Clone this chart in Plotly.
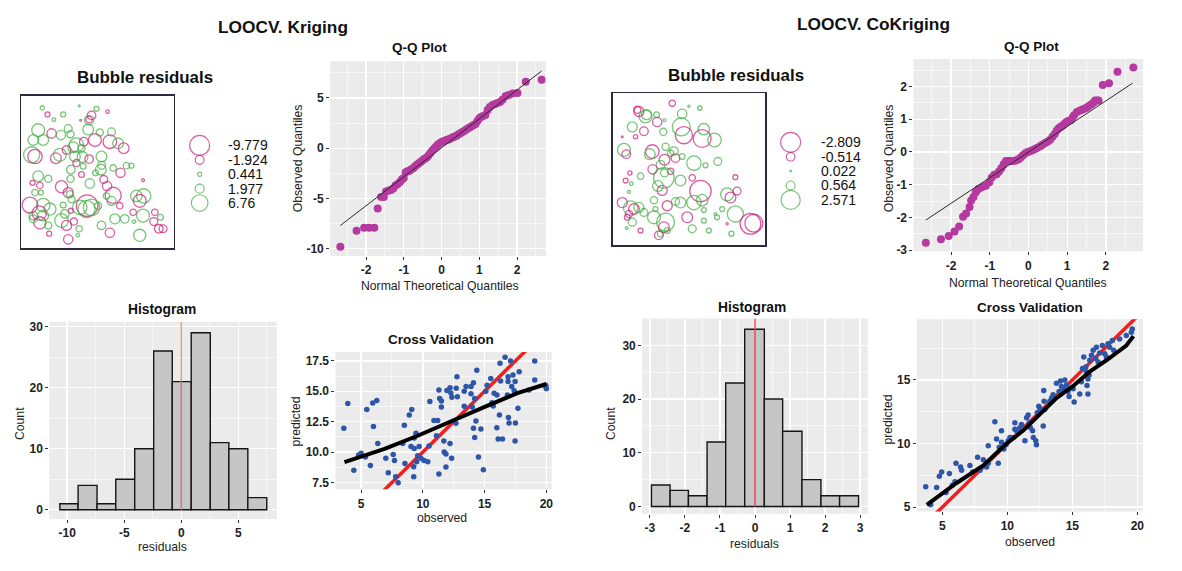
import numpy as np
import plotly.graph_objects as go

W, H = 1182, 571
FONT = "Liberation Sans, Arial, sans-serif"

# ======================= DATA =======================
# --- Kriging: bubble map (map window coords 0-100) and residuals
bubL_x = [13.8,17.2,21.4,27.5,38.0,46.1,49.3,56.6,38.9,44.5, 11.1,7.9,14.4,19.9,26.0,30.8,32.3,43.9,36.2,41.0,
          48.3,58.1,63.5,67.2,59.2,6.8,9.0,22.7,25.3,29.7, 35.2,39.5,44.5,52.6,36.2,40.6,32.5,39.5,48.7,52.2,
          60.3,65.1,69.0,72.3,11.1,17.7,7.4,12.2,32.3,45.0, 54.1,56.3,79.9,9.0,12.9,26.4,30.8,31.9,33.0,60.3,
          59.2,55.9,75.5,80.3,77.7,5.7,14.4,18.8,27.5,38.4, 43.2,46.1,50.4,42.8,11.8,14.4,7.9,32.5,28.6,64.6,
          73.4,79.9,87.6,91.3,67.9,74.0,12.2,7.9,17.7,26.4, 29.7,34.5,38.0,52.6,61.4,86.9,90.2,93.0,18.3,30.8,
          37.1,58.1,77.7,51.5,44.5,34.1,40.2,52.7]
bubL_y = [92.0,87.7,84.3,87.7,93.3,87.1,91.4,89.5,83.9,84.3, 77.4,71.0,71.0,75.3,74.2,78.5,74.8,77.8,67.7,69.9,
          71.0,69.9,68.8,65.6,76.3,61.3,60.2,59.1,61.3,64.5, 60.2,65.6,58.5,60.2,55.9,53.8,51.6,48.4,49.5,51.6,
          52.7,49.5,54.2,54.2,47.3,45.6,43.0,41.3,45.6,42.6, 45.2,40.9,44.7,36.6,36.6,40.4,36.6,35.5,32.3,34.8,
          31.2,34.4,34.4,34.4,31.2,28.4,28.4,25.8,28.4,26.9, 28.0,26.9,28.0,25.8,23.2,21.5,21.5,24.7,22.6,28.0,
          23.7,21.5,23.7,20.4,19.4,17.6,16.8,19.4,15.1,18.3, 15.1,17.6,12.9,15.1,19.4,17.6,12.9,12.9,9.7,6.0,
          8.6,10.3,8.6,75.9,84.0,66.3,59.8,54.4]
bubL_res = [0.39,-0.53,0.27,0.53,0.07,-1.56,0.53,-0.27,-0.07,-0.88, 3.52,2.44,2.44,-1.84,1.84,1.31,1.09,2.44,4.35,-1.56,
            -3.52,-3.92,2.44,-2.44,1.31,5.50,-4.35,-2.44,3.52,-1.56, 2.44,1.09,-1.56,2.44,-1.09,0.70,1.56,-0.70,0.70,2.44,
            0.88,-1.84,0.88,0.53,2.44,1.09,-0.53,-0.88,1.09,1.84, -1.31,-1.84,-0.17,0.88,0.53,-3.14,-2.13,1.09,1.09,-5.50,
            1.70,0.88,2.78,4.35,-3.52,-5.26,3.92,3.14,0.70,4.35, -9.78,5.75,1.09,6.26,-4.35,2.44,1.56,-0.53,1.56,-0.88,
            -0.88,3.52,-0.88,0.70,1.56,0.27,-3.14,1.31,1.09,3.92, -2.13,-1.09,0.88,1.56,2.13,-1.31,-1.56,-1.31,-0.53,-1.84,
            0.27,-1.84,3.14,1.09,1.84,2.44,2.44,1.31]
bubL_legend = [-9.779, -1.924, 0.441, 1.977, 6.76]

# --- Kriging: Q-Q
qqL_theo = [-2.68,-2.25,-2.05,-1.92,-1.78,-1.69,-1.60,-1.53,-1.47,-1.40,-1.34,-1.28,-1.22,-1.16,-1.10,-1.05,-1.00,
            -0.95,-0.90,-0.85,-0.80,-0.75,-0.70,-0.65,-0.60,-0.55,-0.50,-0.45,-0.40,-0.35,-0.30,-0.25,-0.20,-0.15,-0.10,-0.05,
            0.00,0.05,0.10,0.15,0.20,0.25,0.30,0.35,0.40,0.45,0.50,0.55,0.60,0.65,0.70,0.75,0.80,0.85,0.90,0.95,1.00,1.05,1.10,
            1.16,1.22,1.28,1.35,1.42,1.48,1.55,1.62,1.70,1.78,1.88,2.01,2.23,2.65]
qqL_obs = [-9.8,-8.2,-7.9,-7.9,-7.9,-6.0,-4.85,-4.85,-4.3,-4.2,-4.15,-4.0,-3.7,-3.55,-3.35,-3.1,-2.95,
           -2.4,-2.3,-2.25,-2.1,-2.0,-1.8,-1.65,-1.5,-1.35,-1.2,-1.05,-0.95,-0.75,-0.5,-0.25,-0.05,0.15,0.35,0.5,
           0.62,0.7,0.78,0.85,0.9,1.0,1.08,1.17,1.25,1.38,1.5,1.62,1.72,1.85,1.95,2.08,2.18,2.3,2.42,2.7,2.98,3.1,3.2,
           3.3,3.8,4.1,4.3,4.4,4.5,4.6,4.85,5.2,5.3,5.45,5.5,6.6,6.8]
qqL_line_x = [-2.68, 2.65]
qqL_line_y = [-7.69, 7.68]

# --- Kriging: histogram of residuals
histL_edges = [-10.64,-9.04,-7.38,-5.74,-4.08,-2.42,-0.79,0.87,2.54,4.17,5.83,7.49]
histL_counts = [1,4,1,5,10,26,21,29,11,10,2]

# --- Kriging: cross validation
cvL_obs = [3.6,3.92,4.41,4.8,5.0,5.35,5.46,5.75,5.94,6.0, 6.27,6.35,7.0,7.2,7.6,7.7,7.8,8.0,8.37,8.5,
           8.55,8.9,9.04,9.1,9.26,9.26,9.3,9.3,9.44,9.5, 9.58,9.7,9.85,10.1,10.4,10.5,10.57,10.9,11.1,11.2,
           11.3,11.3,11.36,11.5,11.5,11.7,11.73,11.87,11.87,11.95, 12.2,12.2,12.27,12.33,12.35,12.68,12.7,12.76,12.8,13.35,
           13.35,13.5,13.9,13.9,14.0,14.1,14.1,14.2,14.2,14.3, 14.37,14.5,14.7,14.9,15.1,15.2,15.5,15.6,15.7,15.77,
           15.99,16.0,16.1,16.2,16.25,16.3,16.45,16.66,16.85,16.9, 16.9,16.93,16.98,17.1,17.2,17.3,17.4,17.47,17.47,17.5,
           17.7,17.8,18.6,19.06,19.06,19.95,20.0,19.95]
cvL_pred = [11.96,13.99,8.5,9.75,9.9,9.6,13.5,8.9,14.04,12.1, 14.25,10.7,9.5,8.3,9.8,9.3,7.96,7.47,10.7,12.2,
            9.05,13.04,10.45,13.5,8.8,7.96,11.15,10.3,11.55,9.2, 9.7,10.45,9.5,9.3,9.2,10.5,14.17,12.6,11.34,12.6,
            15.1,8.2,14.4,13.7,14.2,10.9,10.0,9.85,8.77,15.07, 10.7,15.3,14.85,9.5,14.5,12.37,15.26,16.2,14.55,13.77,
            15.0,15.4,15.4,14.8,13.7,15.7,11.96,11.2,14.4,12.55, 16.74,9.6,11.9,8.55,15.0,15.5,16.06,14.05,13.8,14.84,
            12.0,14.7,11.07,13.05,17.3,15.85,11.07,17.8,14.7,15.8, 16.2,12.84,12.4,17.5,15.4,16.34,15.05,15.8,10.9,12.4,
            13.6,16.6,15.1,17.5,15.93,15.5,15.2,15.4]
cvL_fit_x = [3.65, 6.9, 9.58, 12.27, 14.96, 17.66, 20.0]
cvL_fit_y = [9.18, 10.26, 11.34, 12.55, 13.69, 14.85, 15.6]

# --- CoKriging: bubble map
bubR_x = [38.9,15.9,21.4,17.0,28.6,29.0,33.8,45.4,49.8,57.0, 44.8,46.5,59.6,58.5,66.6,12.7,20.3,14.8,33.0,6.1,
          7.2,8.7,25.8,24.2,34.5,37.8,33.8,31.2,41.0,45.4, 37.8,33.8,53.1,60.7,68.8,11.1,8.3,18.1,12.0,33.4,
          44.3,52.0,80.3,10.5,32.3,57.4,58.5,26.9,6.1,11.6, 13.8,17.0,20.3,10.5,27.9,35.6,44.3,53.1,41.0,59.6,
          74.9,77.1,81.4,71.6,68.3,12.7,9.4,26.9,34.5,33.4, 35.6,48.7,59.6,80.3,90.2,92.4,9.0,18.1,30.1,31.2,
          52.0,62.9,77.7,67.2,74.9,22.0,40.0,26.0,29.5]
bubR_y = [93.5,89.2,84.8,88.1,85.9,81.2,82.3,86.6,91.6,90.3, 77.9,72.5,76.4,70.3,69.3,77.9,75.1,71.4,74.7,71.4,
          62.8,60.0,61.7,60.0,64.9,60.6,56.3,53.0,57.4,58.4, 48.7,47.6,54.1,52.6,55.2,47.6,42.6,45.5,40.5,44.4,
          42.6,44.4,44.8,35.1,36.1,35.7,29.7,29.7,28.1,24.5, 23.8,24.9,21.6,20.6,23.8,26.0,28.1,28.1,28.8,23.2,
          33.5,31.4,35.7,23.8,18.4,15.2,18.4,18.4,15.2,11.9, 9.7,18.4,16.2,20.6,14.1,14.5,11.3,9.7,6.5,7.6,
          10.8,9.7,7.6,20.6,14.1,86.0,62.0,50.0,39.0]
bubR_res = [-0.25,-0.31,1.01,-0.61,0.20,-0.53,0.05,0.53,0.03,0.11, 1.95,-1.80,0.80,-1.95,1.13,0.61,-0.45,-0.11,0.31,-0.02,
            1.01,-0.45,-1.13,0.70,0.31,0.25,-0.70,0.45,-0.45,0.20, -0.25,0.38,1.25,0.15,0.38,-0.11,-0.15,0.25,0.08,2.571,
            0.70,-0.25,-0.15,0.05,-0.61,-2.809,0.80,0.31,-0.61,1.25, -0.70,0.61,0.38,-0.31,0.15,-0.61,0.70,1.25,0.38,0.15,
            1.01,-0.70,-0.38,0.15,0.15,0.38,-0.20,1.01,1.95,-0.70, 0.20,-0.70,0.15,1.58,-2.62,-1.95,0.05,-0.15,-0.45,0.25,
            0.38,0.15,0.15,0.05,-0.03,0.61,0.45,-0.53,0.70]
bubR_legend = [-2.809, -0.514, 0.022, 0.564, 2.571]

# --- CoKriging: Q-Q
qqR_theo = [-2.65,-2.26,-2.06,-1.91,-1.79,-1.69,-1.61,-1.52,-1.48,-1.42,-1.36,-1.29,-1.20,-1.10,-1.01,
            -0.95,-0.88,-0.82,-0.76,-0.70,-0.64,-0.58,-0.52,-0.46,-0.39,-0.33,-0.26,-0.20,-0.14,-0.08,-0.02,
            0.04,0.10,0.17,0.23,0.30,0.36,0.43,0.50,0.56,0.62,0.68,0.73,0.78,0.82,0.86,0.90,0.95,0.99,
            1.04,1.09,1.14,1.18,1.25,1.32,1.38,1.44,1.50,1.56,1.62,1.68,1.72,1.77,1.81,1.92,2.08,2.30,2.71]
qqR_obs = [-2.77,-2.67,-2.57,-2.43,-2.28,-1.98,-1.88,-1.68,-1.48,-1.38,-1.23,-1.13,-1.08,-1.03,-0.93,
           -0.78,-0.70,-0.68,-0.60,-0.50,-0.38,-0.28,-0.28,-0.28,-0.28,-0.26,-0.23,-0.17,-0.10,-0.04,0.0,
           0.02,0.05,0.09,0.13,0.17,0.22,0.27,0.32,0.37,0.46,0.55,0.65,0.72,0.75,0.78,0.82,0.88,0.92,
           0.95,0.97,1.05,1.12,1.22,1.26,1.29,1.32,1.35,1.40,1.45,1.50,1.57,1.57,1.57,2.04,2.10,2.45,2.58]
qqR_line_x = [-2.65, 2.69]
qqR_line_y = [-2.08, 2.10]

# --- CoKriging: histogram
histR_edges = [-2.956,-2.424,-1.901,-1.369,-0.837,-0.295,0.266,0.789,1.34,1.882,2.414,2.956]
histR_counts = [4,3,2,12,23,33,20,14,5,2,2]

# --- CoKriging: cross validation
cvR_obs = [3.72,4.1,4.56,4.77,4.95,5.28,5.54,5.77,5.97,6.05, 6.4,6.48,7.12,7.33,7.71,7.9,8.15,8.4,8.53,8.53,
           9.04,9.3,9.17,9.38,9.55,9.55,9.73,9.9,10.07,10.2, 10.45,10.58,10.58,10.7,10.96,11.09,11.35,11.48,11.6,11.68,
           11.78,11.94,12.0,12.19,12.24,12.3,12.42,12.5,12.76,12.83, 12.88,13.27,13.4,12.8,13.52,13.78,13.98,14.09,14.16,14.29,
           14.42,14.55,14.67,14.75,15.06,15.14,15.57,15.7,15.78,15.88, 16.03,16.08,16.13,16.2,16.2,16.29,16.34,16.47,16.6,16.8,
           16.85,16.98,17.1,17.31,17.49,17.62,17.75,17.87,18.08,18.18, 18.64,19.15,19.54,19.61]
cvR_pred = [6.6,5.18,6.55,7.43,7.76,6.16,7.64,6.73,6.99,8.46, 8.15,7.9,8.28,7.76,8.93,7.9,8.72,8.15,8.46,9.83,
            11.72,8.46,10.35,9.7,10.1,11.0,9.57,9.9,10.22,10.48, 10.48,11.64,11.12,11.0,11.25,11.5,10.22,12.03,12.24,11.64,
            11.25,11.0,10.48,10.22,9.9,12.42,12.93,12.75,11.38,13.32, 12.67,13.32,13.58,14.17,13.84,14.74,14.1,14.92,14.48,14.35,
            15.0,14.6,14.1,13.7,14.3,13.27,13.9,14.87,15.9,16.8, 16.03,15.64,14.56,15.08,13.9,15.39,16.55,16.94,17.33,16.68,
            17.58,16.42,17.12,17.71,17.07,16.81,17.84,17.58,18.1,17.33, 18.23,18.49,18.75,19.0]
cvR_fit_x = [3.8, 6.1, 8.15, 9.94, 11.2, 12.5, 13.78, 15.06, 16.34, 17.62, 19.15, 19.7]
cvR_fit_y = [5.18, 6.9, 8.28, 10.0, 11.0, 12.29, 13.58, 14.53, 15.65, 16.55, 17.71, 18.45]

ref_slope, ref_intercept = 1.0, 0.0   # 1:1 line in the cross-validation plots

# tick values
qqL_xticks = [-2, -1, 0, 1, 2];  qqL_yticks = [-10, -5, 0, 5]
histL_xticks = [-10, -5, 0, 5];  histL_yticks = [0, 10, 20, 30]
cvL_xticks = [5, 10, 15, 20];    cvL_yticks = [7.5, 10.0, 12.5, 15.0, 17.5]
qqR_xticks = [-2, -1, 0, 1, 2];  qqR_yticks = [-3, -2, -1, 0, 1, 2]
histR_xticks = [-3, -2, -1, 0, 1, 2, 3]; histR_yticks = [0, 10, 20, 30]
cvR_xticks = [5, 10, 15, 20];    cvR_yticks = [5, 10, 15]

# ======================= LAYOUT HELPERS =======================
MAG = "#CC1A7A"
GRN = "#3FAE3F"
QQCOL = "#B5399E"
CVCOL = "#2E56A8"
PANEL = "#EBEBEB"
BUBBLE_MAX_PX = 21.5

def xd(a, b):
    return [a / W, b / W]

def yd(top, bot):
    return [1 - bot / H, 1 - top / H]

def lab(v, fmt=None):
    s = (fmt.format(v) if fmt else ("%g" % v))
    return s.replace("\u2212", "-")

def gg_axis(dom, rng, ticks, minor_tick0, minor_dtick, anchor, fmt=None):
    return dict(domain=dom, range=rng, anchor=anchor, tickmode="array", tickvals=ticks,
                ticktext=[lab(t, fmt) for t in ticks],
                showgrid=True, gridcolor="white", gridwidth=1.3,
                minor=dict(tickmode="linear", tick0=minor_tick0, dtick=minor_dtick, showgrid=True,
                           gridcolor="white", gridwidth=0.6, ticks=""),
                zeroline=False, showline=False, ticks="outside", ticklen=3, tickwidth=1,
                tickcolor="#333333",
                tickfont=dict(family=FONT, size=12, color="#222222", weight="bold"),
                fixedrange=True)

def box_axis(dom, anchor):
    return dict(domain=dom, range=[0, 100], anchor=anchor, showgrid=False, zeroline=False,
                showticklabels=False, ticks="", showline=True, mirror=True,
                linecolor="#2B2B3F", linewidth=1.5, fixedrange=True)

def hidden_axis(dom, rng, anchor):
    return dict(domain=dom, range=rng, anchor=anchor, visible=False, fixedrange=True)

# panel pixel boxes: (left, right, top, bottom)
P = {
    1: (21.3, 174.0, 95.0, 250.0),
    2: (185.0, 265.0, 95.0, 250.0),
    3: (330.7, 546.7, 60.0, 257.7),
    4: (49.3, 277.3, 324.3, 524.3),
    5: (336.0, 552.7, 355.0, 494.3),
    6: (614.0, 766.7, 92.7, 246.7),
    7: (776.0, 860.0, 92.7, 246.7),
    8: (915.0, 1145.0, 57.7, 252.7),
    9: (643.3, 869.3, 321.0, 519.0),
    10: (918.3, 1145.0, 321.7, 516.7),
}

def dx(n):
    return xd(P[n][0], P[n][1])

def dy(n):
    return yd(P[n][2], P[n][3])

lay = {}
def put(n, xa, ya):
    lay["xaxis" if n == 1 else f"xaxis{n}"] = xa
    lay["yaxis" if n == 1 else f"yaxis{n}"] = ya

def ref(n):
    return ("x" if n == 1 else f"x{n}"), ("y" if n == 1 else f"y{n}")

put(1, box_axis(dx(1), "y"), box_axis(dy(1), "x"))
put(2, hidden_axis(dx(2), [P[2][0], P[2][1]], "y2"), hidden_axis(dy(2), [P[2][3], P[2][2]], "x2"))
put(3, gg_axis(dx(3), [-2.95, 2.76], qqL_xticks, -2.5, 1, "y3"),
       gg_axis(dy(3), [-10.73, 8.66], qqL_yticks, -7.5, 5, "x3"))
put(4, gg_axis(dx(4), [-11.57, 8.37], histL_xticks, -7.5, 5, "y4"),
       gg_axis(dy(4), [-1.5, 30.8], histL_yticks, 5, 10, "x4"))
put(5, gg_axis(dx(5), [2.92, 20.44], cvL_xticks, 7.5, 5, "y5"),
       gg_axis(dy(5), [6.93, 18.23], cvL_yticks, 8.75, 2.5, "x5", fmt="{:.1f}"))
put(6, box_axis(dx(6), "y6"), box_axis(dy(6), "x6"))
put(7, hidden_axis(dx(7), [P[7][0], P[7][1]], "y7"), hidden_axis(dy(7), [P[7][3], P[7][2]], "x7"))
put(8, gg_axis(dx(8), [-2.97, 2.96], qqR_xticks, -2.5, 1, "y8"),
       gg_axis(dy(8), [-3.03, 2.84], qqR_yticks, -2.5, 1, "x8"))
put(9, gg_axis(dx(9), [-3.22, 3.22], histR_xticks, -2.5, 1, "y9"),
       gg_axis(dy(9), [-1.35, 35.0], histR_yticks, 5, 10, "x9"))
put(10, gg_axis(dx(10), [3.03, 20.44], cvR_xticks, 7.5, 5, "y10"),
        gg_axis(dy(10), [4.66, 19.78], cvR_yticks, 7.5, 5, "x10"))

fig = go.Figure()

# ---------------- bubble maps ----------------
def bubble(n, xs, ys, res, legend_vals, legend_n, leg_cx, leg_y0, leg_step, label_x):
    res = np.asarray(res, dtype=float)
    zmax = np.max(np.abs(legend_vals))
    sizes = BUBBLE_MAX_PX * np.sqrt(np.abs(res) / zmax)
    cols = [MAG if r < 0 else GRN for r in res]
    xr, yr = ref(n)
    fig.add_trace(go.Scatter(x=xs, y=ys, mode="markers", xaxis=xr, yaxis=yr,
                             marker=dict(symbol="circle-open", size=sizes, color=cols,
                                         line=dict(width=1.3)),
                             hoverinfo="skip", showlegend=False))
    lv = np.asarray(legend_vals, dtype=float)
    lsz = 20 * np.sqrt(np.abs(lv) / zmax)
    lys = [leg_y0 + i * leg_step for i in range(len(lv))]
    lxr, lyr = ref(legend_n)
    fig.add_trace(go.Scatter(x=[leg_cx] * len(lv), y=lys, mode="markers", xaxis=lxr, yaxis=lyr,
                             marker=dict(symbol="circle-open", size=lsz,
                                         color=[MAG if v < 0 else GRN for v in lv], line=dict(width=1.2)),
                             hoverinfo="skip", showlegend=False, cliponaxis=False))
    for v, yy in zip(lv, lys):
        fig.add_annotation(x=label_x / W, y=1 - yy / H, xref="paper", yref="paper",
                           text=lab(v), showarrow=False, xanchor="left", yanchor="middle",
                           font=dict(family=FONT, size=14, color="#111111"))

bubble(1, bubL_x, bubL_y, bubL_res, bubL_legend, 2, 200.0, 145.5, 14.6, 226.0)
bubble(6, bubR_x, bubR_y, bubR_res, bubR_legend, 7, 792.0, 142.3, 14.6, 820.0)

# ---------------- Q-Q plots ----------------
def qq(n, tx, ob, lx, ly):
    xr, yr = ref(n)
    fig.add_trace(go.Scatter(x=tx, y=ob, mode="markers", xaxis=xr, yaxis=yr,
                             marker=dict(size=8, color=QQCOL), hoverinfo="skip", showlegend=False))
    fig.add_trace(go.Scatter(x=lx, y=ly, mode="lines", xaxis=xr, yaxis=yr,
                             line=dict(color="#2A2A2A", width=1), hoverinfo="skip", showlegend=False))

qq(3, qqL_theo, qqL_obs, qqL_line_x, qqL_line_y)
qq(8, qqR_theo, qqR_obs, qqR_line_x, qqR_line_y)

# ---------------- histograms ----------------
def hist(n, edges, counts, vline_segments):
    e = np.asarray(edges, dtype=float)
    centers = (e[:-1] + e[1:]) / 2
    widths = np.diff(e)
    xr, yr = ref(n)
    fig.add_trace(go.Bar(x=centers, y=counts, width=widths, xaxis=xr, yaxis=yr,
                         marker=dict(color="#C6C6C6", line=dict(color="#151515", width=1.4)),
                         hoverinfo="skip", showlegend=False))
    for (y0, y1, col) in vline_segments:
        fig.add_trace(go.Scatter(x=[0, 0], y=[y0, y1], mode="lines", xaxis=xr, yaxis=yr,
                                 line=dict(color=col, width=1.4), hoverinfo="skip", showlegend=False))

zero_bin_L = histL_counts[int(np.searchsorted(histL_edges, 0.0)) - 1]
hist(4, histL_edges, histL_counts, [(0, zero_bin_L, "#D8707A"), (zero_bin_L, 30.8, "#E3A272")])
hist(9, histR_edges, histR_counts, [(0, 35.0, "#EE3B5C")])

# ---------------- cross validation ----------------
def cv(n, ob, pr, fx, fy, xrange_):
    xr, yr = ref(n)
    rx = np.array(xrange_)
    fig.add_trace(go.Scatter(x=rx, y=ref_intercept + ref_slope * rx, mode="lines", xaxis=xr, yaxis=yr,
                             line=dict(color="#F21D1D", width=3.5), hoverinfo="skip", showlegend=False))
    fig.add_trace(go.Scatter(x=ob, y=pr, mode="markers", xaxis=xr, yaxis=yr,
                             marker=dict(size=5.5, color=CVCOL), hoverinfo="skip", showlegend=False))
    fig.add_trace(go.Scatter(x=fx, y=fy, mode="lines", xaxis=xr, yaxis=yr,
                             line=dict(color="#000000", width=4), hoverinfo="skip", showlegend=False))

cv(5, cvL_obs, cvL_pred, cvL_fit_x, cvL_fit_y, [2.92, 20.44])
cv(10, cvR_obs, cvR_pred, cvR_fit_x, cvR_fit_y, [3.03, 20.44])

# ---------------- grey panel backgrounds ----------------
shapes = []
for n in (3, 4, 5, 8, 9, 10):
    xr, yr = ref(n)
    shapes.append(dict(type="rect", xref=f"{xr} domain", yref=f"{yr} domain", x0=0, x1=1, y0=0, y1=1,
                       fillcolor=PANEL, line=dict(width=0), layer="below"))

# ---------------- text ----------------
def txt(s, x, y, size, bold=False, angle=0, color="#111111"):
    fig.add_annotation(x=x / W, y=1 - y / H, xref="paper", yref="paper", text=s, showarrow=False,
                       xanchor="center", yanchor="middle", textangle=angle,
                       font=dict(family=FONT, size=size, color=color, weight="bold" if bold else "normal"))

txt("LOOCV. Kriging", 283, 25, 17.3, True)
txt("LOOCV. CoKriging", 875, 22, 17.3, True)
txt("Bubble residuals", 145, 77, 16.9, True)
txt("Bubble residuals", 737, 75, 16.9, True)
txt("Q-Q Plot", 420, 46, 13.5, True)
txt("Q-Q Plot", 1033, 45, 13.5, True)
txt("Histogram", 162, 312, 13.8, True)
txt("Histogram", 753, 310, 13.8, True)
txt("Cross Validation", 442, 342, 13.5, True)
txt("Cross Validation", 1032, 310, 13.5, True)

AX = "#222222"
AXS = 12.2
txt("Normal Theoretical Quantiles", 441, 288, AXS, color=AX)
txt("Observed Quantiles", 298, 158, AXS, angle=-90, color=AX)
txt("residuals", 163, 553, AXS, color=AX)
txt("Count", 20, 427, AXS, angle=-90, color=AX)
txt("observed", 443, 523, AXS, color=AX)
txt("predicted", 297, 425, AXS, angle=-90, color=AX)
txt("Normal Theoretical Quantiles", 1030, 285, AXS, color=AX)
txt("Observed Quantiles", 890, 158, AXS, angle=-90, color=AX)
txt("residuals", 756, 550, AXS, color=AX)
txt("Count", 612, 427, AXS, angle=-90, color=AX)
txt("observed", 1032, 548, AXS, color=AX)
txt("predicted", 890, 423, AXS, angle=-90, color=AX)

fig.update_layout(width=W, height=H, autosize=False, margin=dict(l=0, r=0, t=0, b=0),
                  paper_bgcolor="white", plot_bgcolor="rgba(0,0,0,0)", showlegend=False,
                  shapes=shapes, hovermode=False, font=dict(family=FONT), **lay)

fig.write_html("out.html", config={"displayModeBar": False, "staticPlot": True},
               post_script="document.body.style.margin='0px';document.body.style.padding='0px';")
